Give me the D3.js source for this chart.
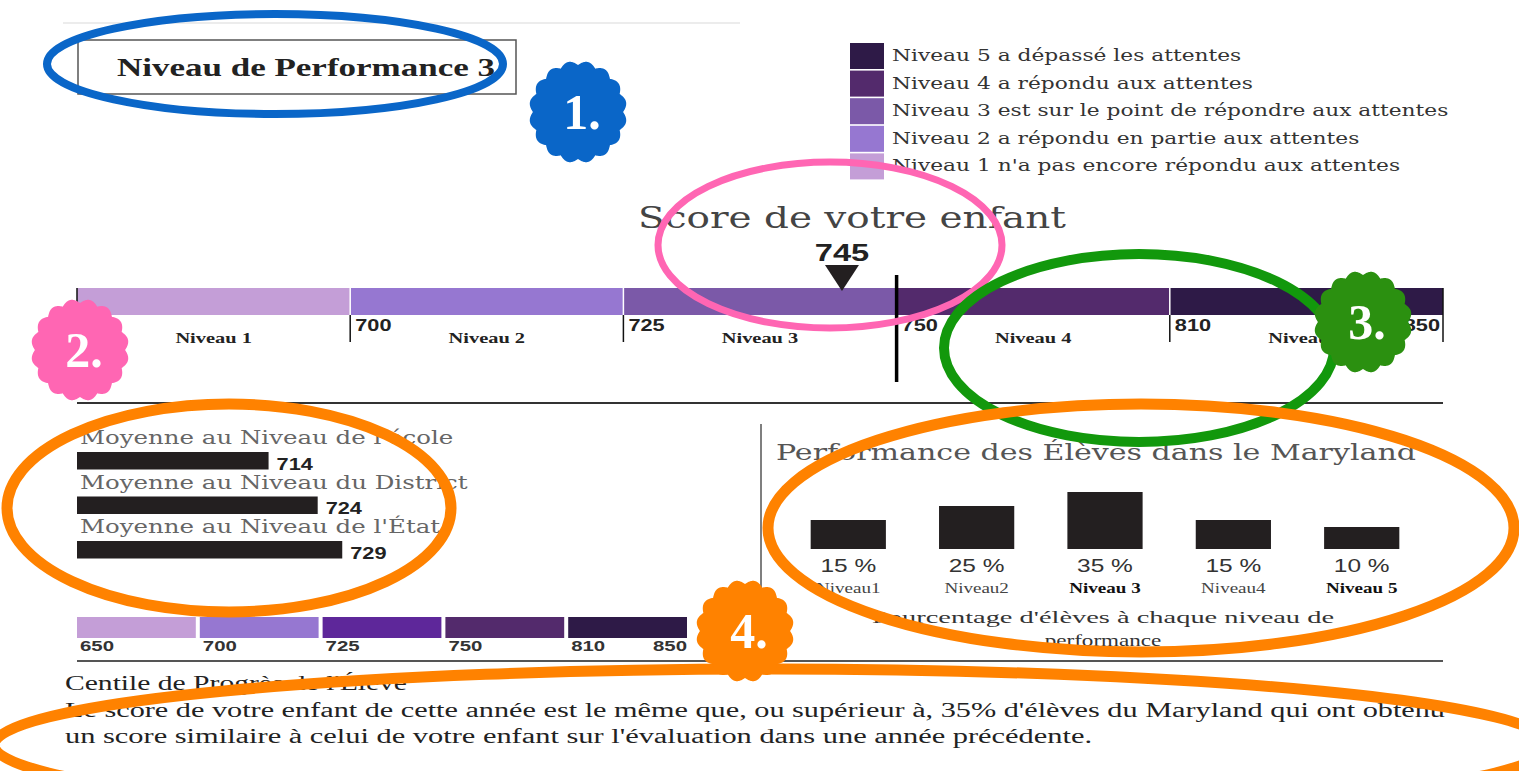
<!DOCTYPE html>
<html>
<head>
<meta charset="utf-8">
<script src="https://cdn.jsdelivr.net/npm/d3@7.9.0/dist/d3.min.js"></script>
<style>
  html, body { margin: 0; padding: 0; background: #fff; }
  svg { display: block; }
</style>
</head>
<body>
<svg id="chart" width="1519" height="771"></svg>
<script>
// ---- data ----
const levels = ['Niveau 1', 'Niveau 2', 'Niveau 3', 'Niveau 4', 'Niveau 5'];
const cutScores = [650, 700, 725, 750, 810, 850];
const levelColors = ['#c49ed7', '#9677d1', '#7b59a8', '#532a6c', '#2e1a47'];
const keyColors = ['#c49ed7', '#9677d1', '#5e279a', '#532a6c', '#2e1a47'];
const legendLabels = [
  'Niveau 5 a dépassé les attentes',
  'Niveau 4 a répondu aux attentes',
  'Niveau 3 est sur le point de répondre aux attentes',
  'Niveau 2 a répondu en partie aux attentes',
  "Niveau 1 n'a pas encore répondu aux attentes"
];
const childScore = 745;
const childLevel = 3;
const proficientCut = 750;
const avgLabels = ["Moyenne au Niveau de l'école", 'Moyenne au Niveau du District', "Moyenne au Niveau de l'État"];
const avgScores = [714, 724, 729];
const stateLevels = ['Niveau1', 'Niveau2', 'Niveau 3', 'Niveau4', 'Niveau 5'];
const statePct = [15, 25, 35, 15, 10];
const progressPct = 35;

// the page image is stretched sideways, so text is drawn stretched too
const SX = 1.36;
const svg = d3.select('#chart');
svg.append('rect').attr('width', 1519).attr('height', 771).attr('fill', '#fff');

function txt(parent, x, y, str, o = {}) {
  const t = parent.append('text')
    .attr('transform', `translate(${x},${y}) scale(${SX},1)`)
    .attr('font-family', o.family || 'DejaVu Serif')
    .attr('font-size', o.size || 16)
    .attr('font-weight', o.weight || 'normal')
    .attr('fill', o.fill || '#222')
    .attr('text-anchor', o.anchor || 'start')
    .text(str);
  if (o.fit) t.attr('textLength', o.fit / SX).attr('lengthAdjust', 'spacingAndGlyphs');
  return t;
}

// faint remains of the page above
svg.append('line').attr('x1', 63).attr('x2', 740).attr('y1', 23).attr('y2', 23)
  .attr('stroke', '#ececec').attr('stroke-width', 2);

// 1. performance level box
svg.append('rect').attr('x', 78).attr('y', 40).attr('width', 438).attr('height', 54)
  .attr('fill', 'none').attr('stroke', '#555').attr('stroke-width', 1.5);
txt(svg, 117, 76, `Niveau de Performance ${childLevel}`,
  { family: 'Liberation Serif', size: 25, weight: 'bold', fill: '#222', fit: 378 });

// legend
const legend = svg.append('g');
legendLabels.forEach((d, i) => {
  legend.append('rect').attr('x', 850).attr('y', 43 + i * 27.6).attr('width', 34).attr('height', 26)
    .attr('fill', levelColors[levelColors.length - 1 - i]);
  txt(legend, 892, 61 + i * 27.6, d, { size: 16, fill: '#333' });
});

// main scale
const x = d3.scaleLinear().domain(cutScores).range(cutScores.map((_, i) => 77 + i * 273.2));
const scale = svg.append('g');
txt(scale, 852, 228, 'Score de votre enfant', { size: 29, fill: '#444', anchor: 'middle', fit: 428 });

levels.forEach((lv, i) => {
  scale.append('rect')
    .attr('x', x(cutScores[i])).attr('y', 288)
    .attr('width', x(cutScores[i + 1]) - x(cutScores[i])).attr('height', 27)
    .attr('fill', levelColors[i]);
  txt(scale, (x(cutScores[i]) + x(cutScores[i + 1])) / 2, 343, lv,
    { family: 'Liberation Serif', size: 15, weight: 'bold', fill: '#222', anchor: 'middle' });
});
cutScores.slice(1, -1).forEach(c => {
  scale.append('line').attr('x1', x(c)).attr('x2', x(c)).attr('y1', 288).attr('y2', 315)
    .attr('stroke', '#fff').attr('stroke-width', 1.5);
});
cutScores.forEach((c, i) => {
  const last = i === cutScores.length - 1;
  scale.append('line').attr('x1', x(c)).attr('x2', x(c))
    .attr('y1', (i === 0 || last) ? 288 : 315).attr('y2', 342)
    .attr('stroke', '#111').attr('stroke-width', 1.5);
  if (i === 0) return;
  txt(scale, last ? x(c) - 3 : x(c) + 5, 331, String(c),
    { family: 'Liberation Sans', size: 16, weight: 'bold', fill: '#222', anchor: last ? 'end' : 'start' });
});
scale.append('line').attr('x1', x(proficientCut)).attr('x2', x(proficientCut))
  .attr('y1', 275).attr('y2', 382).attr('stroke', '#000').attr('stroke-width', 3.5);

// child marker
const mx = x(childScore);
scale.append('path')
  .attr('d', d3.line()([[mx - 17, 265], [mx + 17, 265], [mx, 291]]) + 'Z')
  .attr('fill', '#231f20');
txt(scale, mx, 261, String(childScore),
  { family: 'Liberation Sans', size: 24, weight: 'bold', fill: '#222', anchor: 'middle' });

svg.append('line').attr('x1', 77).attr('x2', 1443).attr('y1', 403).attr('y2', 403)
  .attr('stroke', '#333').attr('stroke-width', 2);

// averages, on the small key scale
const k = d3.scaleLinear().domain(cutScores).range(cutScores.map((_, i) => 77 + i * 122.8));
const avg = svg.append('g');
avgScores.forEach((v, i) => {
  const base = 444 + i * 44.5;
  txt(avg, 80, base, avgLabels[i], { size: 18, fill: '#666' });
  avg.append('rect').attr('x', k(cutScores[0])).attr('y', base + 8)
    .attr('width', k(v) - k(cutScores[0])).attr('height', 17.5).attr('fill', '#231f20');
  txt(avg, k(v) + 8, base + 25.5, String(v),
    { family: 'Liberation Sans', size: 16, weight: 'bold', fill: '#222' });
});

// key bar
const key = svg.append('g');
keyColors.forEach((c, i) => {
  key.append('rect').attr('x', k(cutScores[i])).attr('y', 617)
    .attr('width', k(cutScores[i + 1]) - k(cutScores[i]) - 4).attr('height', 21).attr('fill', c);
});
cutScores.forEach((c, i) => {
  const last = i === cutScores.length - 1;
  txt(key, last ? k(c) - 4 : k(c) + 3, 651, String(c),
    { family: 'Liberation Sans', size: 15, weight: 'bold', fill: '#333', anchor: last ? 'end' : 'start' });
});

svg.append('line').attr('x1', 761).attr('x2', 761).attr('y1', 424).attr('y2', 590)
  .attr('stroke', '#555').attr('stroke-width', 1.5);
svg.append('line').attr('x1', 77).attr('x2', 1443).attr('y1', 661).attr('y2', 661)
  .attr('stroke', '#555').attr('stroke-width', 2);

// state distribution
const st = svg.append('g');
txt(st, 776, 460, 'Performance des Élèves dans le Maryland', { size: 22, fill: '#555', fit: 640 });
const bx = d3.scaleBand().domain(stateLevels).range([785, 1425]).paddingInner(0.414).paddingOuter(0.2);
const by = d3.scaleLinear().domain([0, 35]).range([541, 492]);
stateLevels.forEach((lv, i) => {
  st.append('rect').attr('x', bx(lv)).attr('y', by(statePct[i]))
    .attr('width', bx.bandwidth()).attr('height', 549 - by(statePct[i])).attr('fill', '#231f20');
  const cx = bx(lv) + bx.bandwidth() / 2;
  txt(st, cx, 572, `${statePct[i]} %`, { family: 'Liberation Sans', size: 18, fill: '#333', anchor: 'middle' });
  txt(st, cx, 593, lv, {
    family: 'Liberation Serif', size: 14, anchor: 'middle',
    weight: lv.includes(' ') ? 'bold' : 'normal', fill: lv.includes(' ') ? '#111' : '#444'
  });
});
txt(st, 1103, 623, "Pourcentage d'élèves à chaque niveau de",
  { family: 'Liberation Serif', size: 17, fill: '#333', anchor: 'middle', fit: 462 });
txt(st, 1103, 646, 'performance', { family: 'Liberation Serif', size: 17, fill: '#333', anchor: 'middle' });

// progress text
const pg = svg.append('g');
txt(pg, 65, 690, "Centile de Progrès de l'Élève", { family: 'Liberation Serif', size: 20, fill: '#222', fit: 342 });
txt(pg, 65, 717, `Le score de votre enfant de cette année est le même que, ou supérieur à, ${progressPct}% d'élèves du Maryland qui ont obtenu`,
  { family: 'Liberation Serif', size: 20, fill: '#222', fit: 1380 });
txt(pg, 65, 743, "un score similaire à celui de votre enfant sur l'évaluation dans une année précédente.",
  { family: 'Liberation Serif', size: 20, fill: '#222', fit: 1027 });

// ---- annotations ----
const notes = svg.append('g');
const ellipses = [
  { cx: 275, cy: 64, rx: 228, ry: 50, c: '#0a66c8', w: 8 },
  { cx: 830, cy: 245, rx: 172, ry: 83, c: '#ff66b3', w: 7 },
  { cx: 1139, cy: 348, rx: 195, ry: 94, c: '#12980c', w: 10 },
  { cx: 229, cy: 508, rx: 222, ry: 104, c: '#ff8200', w: 11 },
  { cx: 1141, cy: 528, rx: 373, ry: 124, c: '#ff8200', w: 11 },
  { cx: 772, cy: 745, rx: 778, ry: 76, c: '#ff8200', w: 11 }
];
ellipses.forEach(e => {
  notes.append('ellipse').attr('cx', e.cx).attr('cy', e.cy).attr('rx', e.rx).attr('ry', e.ry)
    .attr('fill', 'none').attr('stroke', e.c).attr('stroke-width', e.w);
});

const badges = [
  { n: '1.', cx: 578, cy: 112, c: '#0a66c8' },
  { n: '2.', cx: 80, cy: 350, c: '#ff66b3' },
  { n: '3.', cx: 1363, cy: 322, c: '#2b9010' },
  { n: '4.', cx: 745, cy: 631, c: '#ff8200' }
];
const bump = 16;
const scallop = d3.lineRadial().curve(d3.curveLinearClosed)
  .angle(a => a)
  .radius(a => 1 - 0.08 * (1 - Math.abs(Math.sin(bump * a / 2))));
const angles = d3.range(0, 2 * Math.PI, Math.PI / 360);
badges.forEach(b => {
  notes.append('path').attr('d', scallop(angles))
    .attr('transform', `translate(${b.cx},${b.cy}) scale(49,51)`)
    .attr('fill', b.c);
  notes.append('text').attr('x', b.cx + 4).attr('y', b.cy + 17)
    .attr('text-anchor', 'middle').attr('font-family', 'Liberation Serif')
    .attr('font-size', 50).attr('font-weight', 'bold').attr('fill', '#fff').text(b.n);
});
</script>
</body>
</html>
